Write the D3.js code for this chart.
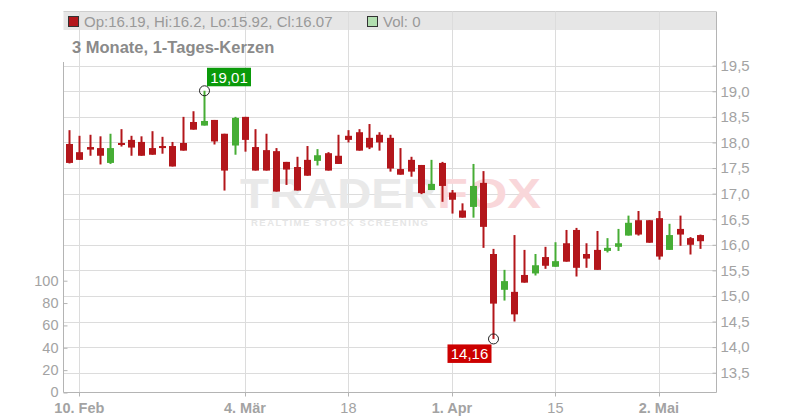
<!DOCTYPE html>
<html><head><meta charset="utf-8">
<script src="https://cdn.jsdelivr.net/npm/d3@7"></script>
<style>
html,body{margin:0;padding:0;background:#fff;}
svg{display:block;font-family:"Liberation Sans",Arial,sans-serif;}
</style></head>
<body><svg id="c" width="800" height="420"></svg>
<script>
// ---- data (index 0 = 7 Feb, trading days) ----
const openV  = [17.97,17.81,17.91,17.89,17.60,17.99,18.05,18.01,17.89,17.93,17.93,17.99,18.40,18.33,18.44,18.17,17.94,18.50,17.91,17.85,17.83,17.62,17.52,17.66,17.64,17.79,17.74,18.13,18.20,18.09,18.15,18.09,17.48,17.66,17.56,17.07,17.60,17.02,16.67,16.74,17.21,15.82,15.12,15.08,15.41,15.44,15.76,15.57,16.03,16.29,15.82,15.90,15.88,15.96,16.18,16.48,16.48,16.52,15.90,16.31,16.13,16.19];
const highV  = [18.24,18.13,18.15,18.12,18.17,18.26,18.13,18.12,18.22,18.11,18.01,18.50,18.61,19.01,18.44,18.17,18.50,18.50,18.26,18.17,17.89,17.62,17.72,17.93,17.87,17.81,18.15,18.24,18.26,18.36,18.20,18.15,17.89,17.72,17.56,17.66,17.62,17.07,16.81,17.58,17.44,15.92,15.51,16.19,15.90,15.82,15.96,16.05,16.29,16.33,16.03,16.27,16.13,16.31,16.57,16.66,16.48,16.66,16.41,16.57,16.15,16.20];
const lowV   = [17.59,17.66,17.74,17.57,17.58,17.92,17.74,17.74,17.76,17.78,17.53,17.84,18.25,18.33,17.96,17.06,17.76,17.82,17.45,17.45,17.04,17.17,17.06,17.35,17.55,17.45,17.58,18.00,17.84,17.87,17.84,17.43,17.37,17.33,16.99,17.07,16.84,16.61,16.53,16.53,15.94,14.16,14.91,14.50,15.26,15.40,15.53,15.57,15.67,15.38,15.55,15.51,15.85,15.88,16.18,16.18,16.04,15.71,15.90,15.98,15.81,15.92];
const closeV = [17.60,17.66,17.86,17.74,17.89,17.95,17.90,17.74,17.76,17.89,17.53,17.84,18.25,18.42,18.02,17.45,18.48,18.05,17.45,17.45,17.04,17.47,17.06,17.35,17.75,17.45,17.58,18.05,17.84,17.90,18.00,17.49,17.37,17.43,17.01,17.19,17.15,16.88,16.53,17.15,16.35,14.85,15.29,14.64,15.26,15.60,15.59,15.68,15.67,15.55,15.73,15.51,15.94,16.03,16.43,16.20,16.04,15.77,16.19,16.20,16.00,16.07];
const volumeV = openV.map(() => 0);
const xTickIdx    = [1, 17, 27, 37, 47, 57];
const xTickLabels = ["10. Feb", "4. Mär", "18", "1. Apr", "15", "2. Mai"];
const xTickBold   = [true, true, false, true, false, true];
const priceTicks  = [13.5,14,14.5,15,15.5,16,16.5,17,17.5,18,18.5,19,19.5];
const volTicks    = [0,20,40,60,80,100];
const headerText  = "Op:16.19, Hi:16.2, Lo:15.92, Cl:16.07";
const volText     = "Vol: 0";
const titleText   = "3 Monate, 1-Tages-Kerzen";

const RED = "#b3161b", GREEN = "#46ad35", GRID = "#dcdcdc", AX = "#b4b4b4", TXT = "#a3a3a3";
const svg = d3.select("#c");
const L = 63.5, R = 716, B = 392.5;
const x = d3.scaleLinear().domain([0, 61]).range([69, 700.3]);
const y = d3.scaleLinear().domain([13.5, 19.5]).range([372.7, 65.7]);
const yv = d3.scaleLinear().domain([0, 100]).range([392.5, 280.7]);
const fmt = v => d3.format(".2f")(v).replace(".", ",");

// header band
svg.append("rect").attr("x", L).attr("y", 11.5).attr("width", R - L).attr("height", 18.5).attr("fill", "#e6e6e6");
svg.append("line").attr("x1", L).attr("x2", R).attr("y1", 11.5).attr("y2", 11.5).attr("stroke", "#cfcfcf");

// grid
const g = svg.append("g");
g.selectAll(".hg").data(priceTicks).join("line")
  .attr("x1", L).attr("x2", R).attr("y1", d => Math.round(y(d)) + 0.5).attr("y2", d => Math.round(y(d)) + 0.5)
  .attr("stroke", GRID);
g.selectAll(".vg").data(xTickIdx).join("line")
  .attr("x1", d => Math.round(x(d)) + 0.5).attr("x2", d => Math.round(x(d)) + 0.5)
  .attr("y1", 11.5).attr("y2", B).attr("stroke", GRID);

// header contents
svg.append("rect").attr("x", 68.5).attr("y", 16.5).attr("width", 10).attr("height", 10).attr("fill", RED).attr("stroke", "#333");
svg.append("text").attr("x", 84).attr("y", 26.5).attr("font-size", 15).attr("fill", "#999").text(headerText);
svg.append("rect").attr("x", 367.5).attr("y", 16.5).attr("width", 10).attr("height", 10).attr("fill", "#b2dfb0").attr("stroke", "#333");
svg.append("text").attr("x", 383).attr("y", 26.5).attr("font-size", 15).attr("fill", "#999").text(volText);
svg.append("text").attr("x", 72).attr("y", 53).attr("font-size", 16.5).attr("font-weight", "bold").attr("fill", "#8a8a8a").text(titleText);

// watermark
const wm = svg.append("g");
wm.append("text").attr("x", 240).attr("y", 207.5).attr("font-size", 42).attr("font-weight", "bold")
  .attr("textLength", 197).attr("lengthAdjust", "spacingAndGlyphs").attr("fill", "#e9e9e9").text("TRADER");
wm.append("text").attr("x", 437).attr("y", 207.5).attr("font-size", 42).attr("font-weight", "bold")
  .attr("textLength", 104).attr("lengthAdjust", "spacingAndGlyphs").attr("fill", "#f9d7da").text("FOX");
wm.append("text").attr("x", 251).attr("y", 225.5).attr("font-size", 9.5).attr("font-weight", "bold")
  .attr("textLength", 177).attr("lengthAdjust", "spacing").attr("fill", "#e6e6e6").text("REALTIME STOCK SCREENING");

// axes lines
svg.append("line").attr("x1", L).attr("x2", L).attr("y1", 62).attr("y2", B).attr("stroke", AX);
svg.append("line").attr("x1", R + 0.5).attr("x2", R + 0.5).attr("y1", 11.5).attr("y2", B).attr("stroke", AX);
svg.append("line").attr("x1", L).attr("x2", R + 0.5).attr("y1", B).attr("y2", B).attr("stroke", AX);

// right price axis
const ra = svg.append("g").attr("transform", `translate(${R + 0.5},0)`)
  .call(d3.axisRight(y).tickValues(priceTicks).tickSize(-4).tickPadding(4).tickFormat(d => d3.format(".1f")(d).replace(".", ",")));
ra.select(".domain").remove();
ra.selectAll(".tick line").attr("stroke", AX);
ra.selectAll(".tick text").attr("fill", TXT).attr("font-size", 15).attr("font-family", "Liberation Sans, Arial, sans-serif");

// left volume axis
const la = svg.append("g").attr("transform", `translate(${L},0)`)
  .call(d3.axisLeft(yv).tickValues(volTicks).tickSize(-4).tickPadding(5));
la.select(".domain").remove();
la.selectAll(".tick line").attr("stroke", AX);
la.selectAll(".tick text").attr("fill", TXT).attr("font-size", 14.5).attr("dy", "0.3em").attr("font-family", "Liberation Sans, Arial, sans-serif");

// bottom axis ticks and labels
svg.selectAll(".xt").data(xTickIdx).join("line")
  .attr("x1", d => Math.round(x(d)) + 0.5).attr("x2", d => Math.round(x(d)) + 0.5)
  .attr("y1", B).attr("y2", B + 4).attr("stroke", AX);
svg.selectAll(".xl").data(xTickIdx).join("text")
  .attr("x", d => x(d)).attr("y", 413).attr("text-anchor", "middle").attr("font-size", 14.5)
  .attr("font-weight", (d, i) => xTickBold[i] ? "bold" : "normal").attr("fill", TXT)
  .text((d, i) => xTickLabels[i]);

// candles
const idx = d3.range(openV.length);
const cg = svg.append("g");
cg.selectAll(".wick").data(idx).join("line")
  .attr("x1", i => Math.round(x(i)) + 0.5).attr("x2", i => Math.round(x(i)) + 0.5)
  .attr("y1", i => y(highV[i])).attr("y2", i => y(lowV[i]))
  .attr("stroke", i => closeV[i] >= openV[i] ? GREEN : RED).attr("stroke-width", 2);
cg.selectAll(".body").data(idx).join("rect")
  .attr("x", i => Math.round(x(i)) - 3)
  .attr("y", i => y(Math.max(openV[i], closeV[i])))
  .attr("width", 7)
  .attr("height", i => Math.max(1.5, Math.abs(y(openV[i]) - y(closeV[i]))))
  .attr("fill", i => closeV[i] >= openV[i] ? GREEN : RED);

// high / low markers
const hiI = d3.maxIndex(highV), loI = d3.minIndex(lowV);
[[hiI, highV[hiI], "#0a9a0a", true], [loI, lowV[loI], "#cc0000", false]].forEach(([i, v, col, top]) => {
  const cx = Math.round(x(i)) + 0.5, cy = y(v);
  svg.append("circle").attr("cx", cx).attr("cy", cy).attr("r", 5).attr("fill", "none").attr("stroke", "#222").attr("stroke-width", 1);
  const w = 44, h = 18.5;
  const bx = top ? cx + 2.5 : cx - w - 2;
  const by = top ? cy - 23 : cy + 5.5;
  svg.append("rect").attr("x", bx).attr("y", by).attr("width", w).attr("height", h).attr("fill", col);
  svg.append("text").attr("x", bx + w / 2).attr("y", by + 15).attr("text-anchor", "middle")
    .attr("font-size", 15).attr("fill", "#fff").text(fmt(v));
});
</script></body></html>
